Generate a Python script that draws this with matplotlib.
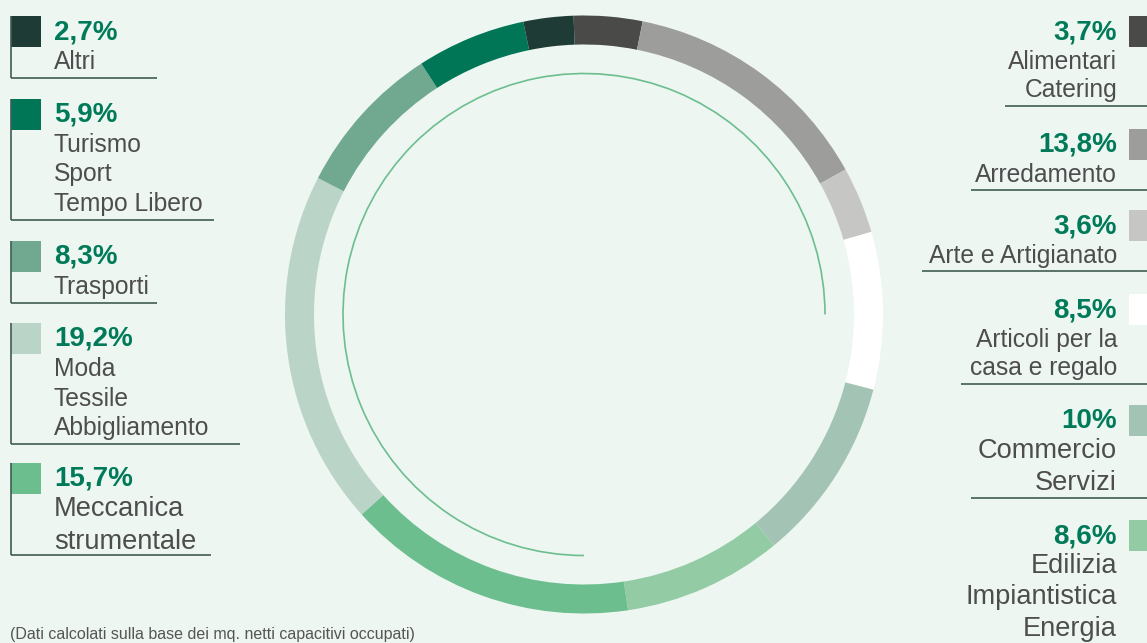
import matplotlib
matplotlib.use('Agg')
import matplotlib.pyplot as plt
from matplotlib.patches import Rectangle, Arc

plt.rcParams['font.family'] = ['Liberation Sans', 'DejaVu Sans']

# ring data, clockwise from the top
sectors = ['Alimentari Catering', 'Arredamento', 'Arte e Artigianato',
           'Articoli per la casa e regalo', 'Commercio Servizi',
           'Edilizia Impiantistica Energia', 'Meccanica strumentale',
           'Moda Tessile Abbigliamento', 'Trasporti',
           'Turismo Sport Tempo Libero', 'Altri']
shares = [3.7, 13.8, 3.6, 8.5, 10.0, 8.6, 15.7, 19.2, 8.3, 5.9, 2.7]
pct_text = ['3,7%', '13,8%', '3,6%', '8,5%', '10%', '8,6%', '15,7%',
            '19,2%', '8,3%', '5,9%', '2,7%']
legend_lines = [['Alimentari', 'Catering'], ['Arredamento'], ['Arte e Artigianato'],
                ['Articoli per la', 'casa e regalo'], ['Commercio', 'Servizi'],
                ['Edilizia', 'Impiantistica', 'Energia'], ['Meccanica', 'strumentale'],
                ['Moda', 'Tessile', 'Abbigliamento'], ['Trasporti'],
                ['Turismo', 'Sport', 'Tempo Libero'], ['Altri']]
colors = ['#4a4a48', '#9d9d9b', '#c6c6c5', '#ffffff', '#a3c4b4', '#93cba5',
          '#6dbe8f', '#bad4c7', '#70a890', '#007656', '#1f3b35']
footnote = '(Dati calcolati sulla base dei mq. netti capacitivi occupati)'

bg = '#edf6f1'
green = '#007a58'
grey = '#4d4d4d'
rule = '#3f5d54'

W, H = 1147, 643
fig = plt.figure(figsize=(W / 100, H / 100), dpi=100, facecolor=bg)

# pixel-coordinate axes for the legends
ax = fig.add_axes([0, 0, 1, 1])
ax.set_xlim(0, W)
ax.set_ylim(H, 0)
ax.axis('off')

# donut
cx, cy, R = 584, 314.5, 299
pax = fig.add_axes([(cx - R) / W, (H - cy - R) / H, 2 * R / W, 2 * R / H])
pax.pie(shares, colors=colors, startangle=92, counterclock=False, radius=1,
        wedgeprops=dict(width=29 / R, linewidth=0))
pax.add_patch(Arc((0, 0), 2 * 241 / R, 2 * 241 / R, theta1=0, theta2=270,
                  color='#6dbe8f', lw=1.2))
pax.set_xlim(-1, 1)
pax.set_ylim(-1, 1)
pax.axis('off')

# legend layout: (sector index, square top y, big label, rule end x)
left = [(10, 16, False, 157), (9, 99, False, 214), (8, 241, False, 157),
        (7, 323, False, 240), (6, 463, True, 211)]
right = [(0, 16, False, 1005), (1, 129, False, 971), (2, 210, False, 922),
         (3, 294, False, 961), (4, 405, True, 971), (5, 520, True, None)]

for i, top, big, rx in left:
    ax.add_patch(Rectangle((11, top), 30, 31, color=colors[i], lw=0))
    ax.text(54, top + 23, pct_text[i], fontsize=20, fontweight='bold',
            color=green, va='baseline', ha='left')
    fs = 19.6 if big else 17.7
    step = 33 if big else 29.5
    y = top + 53
    for ln in legend_lines[i]:
        ax.text(54, y, ln, fontsize=fs, color=grey, va='baseline', ha='left')
        y += step
    yr = y - step + (6 if big else 9)
    ax.plot([11, rx], [yr, yr], color=rule, lw=1.2, solid_capstyle='butt')
    ax.plot([11, 11], [top, yr], color=rule, lw=1.2, solid_capstyle='butt')

for i, top, big, rx in right:
    ax.add_patch(Rectangle((1129, top), 31, 31, color=colors[i], lw=0,
                           clip_on=False))
    ax.text(1117, top + 23, pct_text[i], fontsize=20, fontweight='bold',
            color=green, va='baseline', ha='right')
    fs = 19.6 if big else 17.7
    step = 31.5 if big else 28.5
    y = top + 53
    for ln in legend_lines[i]:
        ax.text(1117, y, ln, fontsize=fs, color=grey, va='baseline', ha='right')
        y += step
    if rx is not None:
        yr = y - step + 8
        ax.plot([rx, W], [yr, yr], color=rule, lw=1.2, solid_capstyle='butt')

ax.text(10, 639, footnote, fontsize=11.5, color='#555555', va='baseline',
        ha='left')

fig.savefig('out.png', dpi=100, facecolor=bg)
